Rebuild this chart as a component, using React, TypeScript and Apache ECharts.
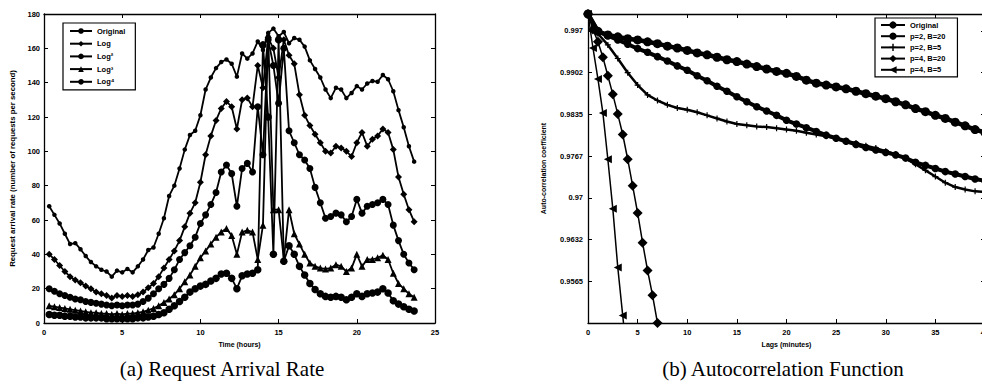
import React, { useEffect, useRef } from "react";
import * as echarts from "echarts";

// ---------- (a) Request Arrival Rate : one sample every 20 minutes ----------
const SAMPLE_COUNT = 71;
const TIME_HOURS = Array.from({ length: SAMPLE_COUNT }, (_, i) => Number(((i + 1) / 3).toFixed(3)));

const RATE_ORIGINAL = [
  68, 63, 58, 52, 46, 46.5, 43, 39, 35.5, 33,
  31, 30, 27, 30.5, 29.5, 31.5, 29.5, 33, 37, 42.5,
  44, 52, 61, 74, 80, 90, 101, 109.5, 112, 121,
  136, 143, 148.5, 152, 153.5, 151, 143.5, 157, 154, 157,
  164, 159, 169, 171.5, 167, 169.5, 163, 166, 165, 161,
  153, 148, 143, 136, 131, 137, 136, 131, 134, 138,
  136, 139.5, 141, 140.5, 144.5, 142, 135, 124, 114, 103, 94,
];
const RATE_LOG1 = [
  40, 37, 33.5, 30, 27, 25, 23.5, 21.5, 20, 18,
  17, 16, 14.5, 16, 15.5, 16, 15.5, 16.5, 18, 20.5,
  23, 27, 32, 37, 42, 48, 56, 64, 70, 82,
  98, 109, 118, 125, 129, 126, 113, 130, 131, 126,
  150, 137, 166, 160, 143, 165, 156, 151, 133, 121,
  115, 110, 105, 100, 99, 103, 102, 100, 97, 105,
  111, 103, 107, 109, 113, 111, 101, 85, 75, 66, 59,
];
const RATE_LOG2 = [
  20, 18.5, 17, 16, 15, 14, 13.5, 12.5, 12, 11.5,
  11, 10.5, 10, 10.5, 10, 10.5, 10.5, 11, 12.5, 14.5,
  17, 20, 22.5, 26, 31, 37, 41, 45, 50, 58,
  63, 69, 76, 88, 92, 87, 68, 90, 93, 88,
  126, 98, 165, 150, 128, 160, 112, 105, 98, 95,
  90, 79, 70, 61, 62, 64, 63, 59, 62, 72,
  64, 68, 69, 70, 72, 69, 57, 48, 40, 35, 31,
];
const RATE_LOG3 = [
  10, 9.5, 9, 8.5, 8, 7.5, 7, 6.5, 6, 6,
  5.5, 5.5, 5, 5.5, 5, 5.5, 5.5, 6, 6.5, 7.5,
  8.5, 10, 12, 14, 16.5, 20, 24, 28, 33, 38,
  42, 46, 50, 53, 55, 51, 40, 53, 54, 53,
  37, 57, 168, 66, 66, 37, 66, 52, 46, 40,
  35, 33, 32, 31.5, 32, 34, 33, 30, 32, 40,
  33, 37, 37, 38, 39.5, 37, 29, 23, 20, 17, 15,
];
const RATE_LOG4 = [
  5, 4.5, 4.5, 4, 4, 3.5, 3.5, 3, 3, 3,
  3, 2.5, 2.5, 2.5, 2.5, 2.5, 2.5, 3, 3, 3.5,
  4, 5, 6, 8, 10, 12.5, 15, 18, 20, 21.5,
  22.5, 24.5, 26, 28.5, 29, 26, 20, 27.5, 28.5, 29,
  31, 162, 120, 40, 165, 36, 45, 40, 33, 28,
  23, 19.5, 17, 15.5, 15, 15.5, 15, 13.5, 15, 17,
  15.5, 17, 17.5, 18, 20, 17.5, 13, 11, 9.5, 8, 7,
];
const RATE_NAMES = ["Original", "Log", "Log²", "Log³", "Log⁴"];

// ---------- (b) Autocorrelation Function ----------
const LAGS = Array.from({ length: 41 }, (_, i) => i);
const LAGS_P4_B20 = [0, 0.5, 1, 1.5, 2, 2.5, 3, 3.5, 4, 4.5, 5, 5.5, 6, 6.5, 7, 7.5];
const LAGS_P4_B5 = [0, 0.5, 1, 1.5, 2, 2.5, 3, 3.5, 4];

const ACF_ORIGINAL = [
  1.0, 0.9972, 0.9966, 0.9963, 0.996, 0.9958, 0.9955, 0.9952, 0.9948, 0.9945,
  0.9941, 0.9937, 0.9934, 0.993, 0.9926, 0.9923, 0.9919, 0.9915, 0.9911, 0.9907,
  0.9904, 0.9899, 0.9893, 0.9888, 0.9885, 0.9882, 0.9879, 0.9875, 0.9871, 0.9867,
  0.9863, 0.9858, 0.9853, 0.9847, 0.9842, 0.9836, 0.9831, 0.9825, 0.9819, 0.9813, 0.9808,
];
const ACF_P2_B20 = [
  1.0, 0.9972, 0.9965, 0.9958, 0.9951, 0.9944, 0.9938, 0.9931, 0.9924, 0.9916,
  0.9909, 0.99, 0.9892, 0.9883, 0.9875, 0.9866, 0.9858, 0.985, 0.9843, 0.9836,
  0.9828, 0.9822, 0.9816, 0.981, 0.9804, 0.9799, 0.9794, 0.9789, 0.9784, 0.978,
  0.9776, 0.9772, 0.9767, 0.976, 0.9755, 0.975, 0.9745, 0.9741, 0.9737, 0.9733, 0.973,
];
const ACF_P2_B5 = [
  1.0, 0.9968, 0.995, 0.9928, 0.9905, 0.9885, 0.9869, 0.986, 0.9853, 0.9848,
  0.9845, 0.9841, 0.9836, 0.9831, 0.9826, 0.9822, 0.982, 0.9818, 0.9817, 0.9815,
  0.9813, 0.9811, 0.9808, 0.9805, 0.9802, 0.9799, 0.9795, 0.9791, 0.9787, 0.9783,
  0.9778, 0.9773, 0.9766, 0.9757, 0.9747, 0.9737, 0.9727, 0.972, 0.9716, 0.9713, 0.9712,
];
const ACF_P4_B20 = [1.0, 0.9975, 0.9955, 0.993, 0.99, 0.987, 0.9838, 0.9805, 0.9765, 0.9722, 0.9678, 0.963, 0.9585, 0.9545, 0.95, 0.946];
const ACF_P4_B5 = [1.0, 0.9945, 0.9895, 0.984, 0.9765, 0.9685, 0.959, 0.9512, 0.9435];
const ACF_NAMES = ["Original", "p=2, B=20", "p=2, B=5", "p=4, B=20", "p=4, B=5"];

const ACF_MIN = 0.95;
const ACF_MAX = 1.0;
const ACF_STEP = 0.00675;
const ACF_TICK_LABELS = ["0.9565", "0.9632", "0.97", "0.9767", "0.9835", "0.9902", "0.997"];

const FONT = '"Liberation Sans", Arial, Helvetica, sans-serif';
const SERIF = '"Liberation Serif", "DejaVu Serif", serif';

const PLUS = "path://M4,0H6V4H10V6H6V10H4V6H0V4H4Z";
const LEFT_TRI = "path://M0,5L10,0L10,10Z";

const SUFFIX = "#b";

function buildOption() {
  const axisLine = { show: true, onZero: false, lineStyle: { color: "#000", width: 1.3 } };
  const axisTick = { show: true, inside: true, length: 4, lineStyle: { color: "#000", width: 1 } };
  const lbl = { color: "#000", fontSize: 7.5, fontWeight: "bold" as const, fontFamily: FONT };
  const nameStyle = { color: "#000", fontSize: 7, fontWeight: "bold" as const, fontFamily: FONT };

  const xBase = (grid: number, max: number) => ({
    gridIndex: grid, type: "value", min: 0, max, interval: 5,
    axisLine, axisTick, splitLine: { show: false },
  });

  const acfFormatter = (v: number) => {
    const idx = Math.round((v - ACF_MIN) / ACF_STEP);
    if (idx < 1 || idx > ACF_TICK_LABELS.length) return "";
    if (Math.abs(v - (ACF_MIN + idx * ACF_STEP)) > 1e-5) return "";
    return ACF_TICK_LABELS[idx - 1];
  };

  const rateData = [RATE_ORIGINAL, RATE_LOG1, RATE_LOG2, RATE_LOG3, RATE_LOG4];
  const rateSymbols = ["circle", "diamond", "circle", "triangle", "circle"];
  const rateSizes = [4.5, 7, 7, 7, 7.5];
  const rateSeries = RATE_NAMES.map((name, s) => ({
    name, type: "line", xAxisIndex: 0, yAxisIndex: 0,
    data: TIME_HOURS.map((t, i) => [t, rateData[s][i]]),
    symbol: rateSymbols[s], symbolSize: rateSizes[s], showSymbol: true,
    lineStyle: { color: "#000", width: 1.8 }, itemStyle: { color: "#000" },
    emphasis: { disabled: true }, z: 2,
  }));

  const acfX = [LAGS, LAGS, LAGS, LAGS_P4_B20, LAGS_P4_B5];
  const acfY = [ACF_ORIGINAL, ACF_P2_B20, ACF_P2_B5, ACF_P4_B20, ACF_P4_B5];
  const acfSymbols = ["circle", "circle", PLUS, "diamond", LEFT_TRI];
  const acfSizes = [9, 7.5, 6, 10, 8];
  const acfWidths = [4.5, 4, 2.5, 1.5, 1.5];
  const acfSeries = ACF_NAMES.map((name, s) => ({
    name: name + SUFFIX, type: "line", xAxisIndex: 2, yAxisIndex: 2,
    data: acfX[s].map((x, i) => [x, acfY[s][i]]),
    symbol: acfSymbols[s], symbolSize: acfSizes[s], showSymbol: true, clip: true,
    lineStyle: { color: "#000", width: acfWidths[s] }, itemStyle: { color: "#000" },
    emphasis: { disabled: true }, z: 2,
  }));

  const legendBase = {
    orient: "vertical", borderColor: "#000", borderWidth: 1.2, backgroundColor: "#fff",
    textStyle: { color: "#000", fontSize: 7.5, fontWeight: "bold", fontFamily: FONT },
    selectedMode: false,
  };

  return {
    animation: false,
    backgroundColor: "#fff",
    grid: [
      { left: 44, top: 14, width: 391, height: 309, outerBoundsMode: "none", containLabel: false },
      { left: 588, top: 14, width: 397, height: 309, outerBoundsMode: "none", containLabel: false },
    ],
    xAxis: [
      { ...xBase(0, 25), position: "bottom", axisLabel: { ...lbl, margin: 5 },
        name: "Time (hours)", nameLocation: "middle", nameGap: 14, nameTextStyle: nameStyle },
      { ...xBase(0, 25), position: "top", axisLabel: { show: false } },
      { ...xBase(1, 40), position: "bottom", axisLabel: { ...lbl, margin: 5 },
        name: "Lags (minutes)", nameLocation: "middle", nameGap: 14, nameTextStyle: nameStyle },
      { ...xBase(1, 40), position: "top", axisLabel: { show: false } },
    ],
    yAxis: [
      { gridIndex: 0, type: "value", min: 0, max: 180, interval: 20, position: "left",
        axisLine, axisTick, splitLine: { show: false }, axisLabel: { ...lbl, margin: 4 },
        name: "Request arrival rate (number of requests per second)", nameLocation: "middle",
        nameGap: 28, nameTextStyle: { ...nameStyle, fontSize: 7.8 } },
      { gridIndex: 0, type: "value", min: 0, max: 180, interval: 20, position: "right",
        axisLine, axisTick, splitLine: { show: false }, axisLabel: { show: false } },
      { gridIndex: 1, type: "value", min: ACF_MIN, max: ACF_MAX, interval: ACF_STEP, position: "left",
        axisLine, axisTick, splitLine: { show: false },
        axisLabel: { ...lbl, margin: 5, formatter: acfFormatter, showMinLabel: true, showMaxLabel: true },
        name: "Auto-correlation coefficient", nameLocation: "middle", nameGap: 41, nameTextStyle: nameStyle },
      { gridIndex: 1, type: "value", min: ACF_MIN, max: ACF_MAX, interval: ACF_STEP, position: "right",
        axisLine, axisTick, splitLine: { show: false }, axisLabel: { show: false } },
    ],
    legend: [
      { ...legendBase, left: 63, top: 23, padding: [4, 10, 4, 6], itemWidth: 22, itemHeight: 7,
        itemGap: 4.7, data: RATE_NAMES },
      { ...legendBase, left: 875, top: 18, padding: [3, 12, 3, 5], itemWidth: 24, itemHeight: 9,
        itemGap: 3.2, data: ACF_NAMES.map((n) => n + SUFFIX),
        formatter: (n: string) => n.split(SUFFIX)[0] },
    ],
    graphic: [
      { type: "text", x: 222, y: 369, style: { text: "(a) Request Arrival Rate", fontSize: 21,
        fontFamily: SERIF, fill: "#000", align: "center", verticalAlign: "middle" } },
      { type: "text", x: 783, y: 369, style: { text: "(b) Autocorrelation Function", fontSize: 21,
        fontFamily: SERIF, fill: "#000", align: "center", verticalAlign: "middle" } },
    ],
    series: [...rateSeries, ...acfSeries],
  };
}

export default function App() {
  const ref = useRef<HTMLDivElement>(null);
  useEffect(() => {
    if (!ref.current) return;
    const chart = echarts.init(ref.current, undefined, { renderer: "svg" });
    chart.setOption(buildOption() as any);
    return () => chart.dispose();
  }, []);
  return (
    <div
      ref={ref}
      style={{ position: "absolute", left: 0, top: 0, width: 982, height: 389, background: "#fff" }}
    />
  );
}
